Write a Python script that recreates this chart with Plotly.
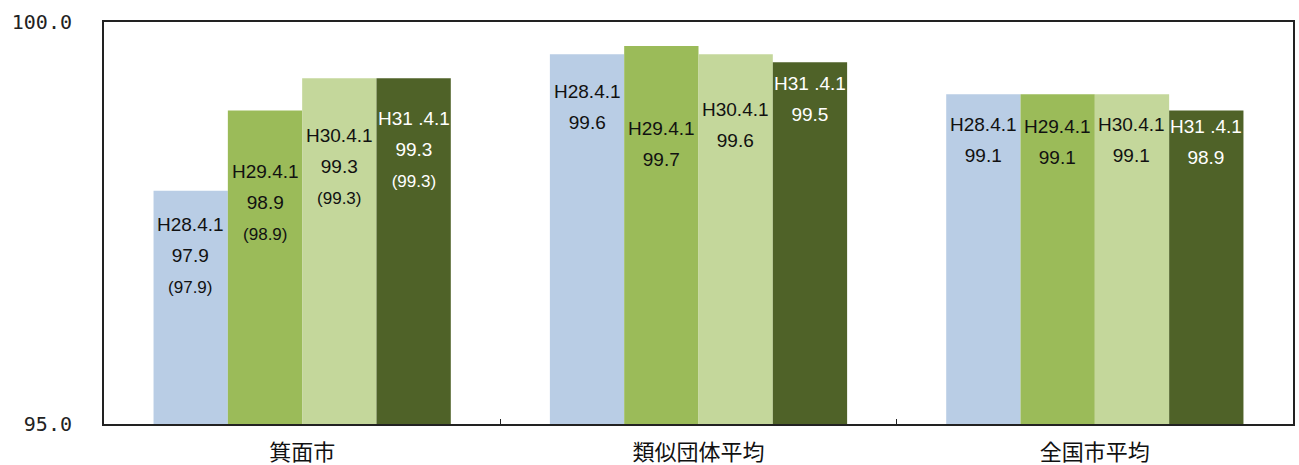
import plotly.graph_objects as go

# ---- data ----
categories = ["箕面市", "類似団体平均", "全国市平均"]
periods = ["H28.4.1", "H29.4.1", "H30.4.1", "H31 .4.1"]
values_h28 = [97.9, 99.6, 99.1]
values_h29 = [98.9, 99.7, 99.1]
values_h30 = [99.3, 99.6, 99.1]
values_h31 = [99.3, 99.5, 98.9]
# bracketed figures shown only for the city
paren_h28 = [97.9, None, None]
paren_h29 = [98.9, None, None]
paren_h30 = [99.3, None, None]
paren_h31 = [99.3, None, None]
y_ticks = [95.0, 100.0]

series_values = [values_h28, values_h29, values_h30, values_h31]
series_paren = [paren_h28, paren_h29, paren_h30, paren_h31]

# ---- style ----
colors = ["#B9CDE5", "#9BBB59", "#C4D79B", "#4F6228"]
text_colors = ["#111111", "#111111", "#111111", "#FFFFFF"]
# label distance (px) below the bar top, per series / category
label_drop = [
    [21, 25, 18],
    [49, 70, 20],
    [45, 43, 18],
    [28, 9, 4],
]
bargap = 0.25
n_series = len(periods)
bar_w = (1 - bargap) / n_series

fig = go.Figure()
for i, (name, vals) in enumerate(zip(periods, series_values)):
    fig.add_trace(go.Bar(
        x=categories, y=vals, name=name,
        marker=dict(color=colors[i], line=dict(width=0)),
    ))

annotations = []
for i, name in enumerate(periods):
    for j, cat in enumerate(categories):
        v = series_values[i][j]
        p = series_paren[i][j]
        txt = (f"<span style='font-size:19px'>{name}</span><br>"
               f"<span style='font-size:19px'>{v:.1f}</span>")
        if p is not None:
            txt += f"<br><span style='font-size:17px'>({p:.1f})</span>"
        annotations.append(dict(
            x=j + (i - (n_series - 1) / 2) * bar_w, y=v,
            xref="x", yref="y", text=txt, showarrow=False,
            yanchor="top", xanchor="center", yshift=-label_drop[i][j],
            font=dict(family="Liberation Sans, Arial, sans-serif", size=24,
                      color=text_colors[i]),
        ))

fig.update_layout(
    width=1299, height=465,
    margin=dict(l=104, r=6, t=22, b=41, autoexpand=False),
    paper_bgcolor="white", plot_bgcolor="white",
    barmode="group", bargap=bargap, bargroupgap=0,
    showlegend=False,
    annotations=annotations,
)
fig.update_yaxes(
    range=[95, 100], tickvals=y_ticks,
    ticktext=[f"{t:.1f}" for t in y_ticks],
    showgrid=False, zeroline=False, automargin=False,
    showline=True, mirror=True, linecolor="#222222", linewidth=2,
    ticks="", ticklabelstandoff=26,
    tickfont=dict(family="DejaVu Sans Mono", size=20, color="#222222"),
)
fig.update_xaxes(
    showgrid=False, zeroline=False, automargin=False,
    showline=True, mirror=True, linecolor="#222222", linewidth=2,
    ticks="inside", tickson="boundaries", ticklen=5, tickcolor="#222222",
    ticklabelstandoff=8,
    tickfont=dict(family="Noto Sans CJK JP", size=22, color="#111111"),
)

fig.write_html("out.html")
